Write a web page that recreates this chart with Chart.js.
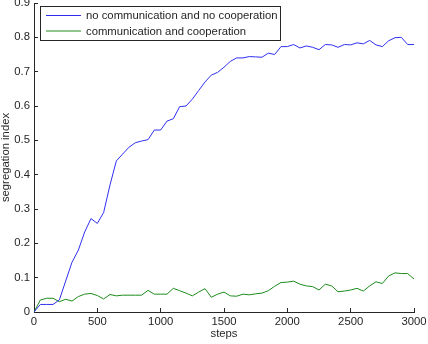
<!DOCTYPE html>
<html>
<head>
<meta charset="utf-8">
<script src="https://cdn.jsdelivr.net/npm/chart.js@4"></script>
<style>
  html, body { margin: 0; padding: 0; background: #fff; }
  canvas { display: block; }
</style>
</head>
<body>
<canvas id="segChart" width="428" height="344"></canvas>
<script>
const steps = [0, 50, 100, 150, 200, 250, 300, 350, 400, 450, 500, 550, 600, 650, 700, 750, 800, 850, 900, 950,
  1000, 1050, 1100, 1150, 1200, 1250, 1300, 1350, 1400, 1450, 1500, 1550, 1600, 1650, 1700, 1750, 1800, 1850, 1900, 1950,
  2000, 2050, 2100, 2150, 2200, 2250, 2300, 2350, 2400, 2450, 2500, 2550, 2600, 2650, 2700, 2750, 2800, 2850, 2900, 2950, 3000];

const noCoop = [0, 0.022, 0.022, 0.022, 0.035, 0.09, 0.145, 0.18, 0.233, 0.272, 0.258, 0.29, 0.37, 0.44, 0.46, 0.48, 0.493, 0.498, 0.502, 0.53,
  0.53, 0.556, 0.563, 0.598, 0.6, 0.62, 0.645, 0.67, 0.69, 0.698, 0.713, 0.73, 0.74, 0.74, 0.744, 0.743, 0.742, 0.754, 0.75, 0.773,
  0.773, 0.779, 0.769, 0.775, 0.771, 0.764, 0.779, 0.778, 0.771, 0.779, 0.778, 0.784, 0.781, 0.791, 0.778, 0.773, 0.79, 0.799, 0.8, 0.779, 0.779];

const withCoop = [0, 0.035, 0.04, 0.04, 0.03, 0.037, 0.032, 0.045, 0.052, 0.054, 0.048, 0.038, 0.051, 0.047, 0.049, 0.049, 0.049, 0.049, 0.063, 0.052,
  0.052, 0.052, 0.069, 0.062, 0.055, 0.047, 0.058, 0.068, 0.043, 0.052, 0.058, 0.047, 0.046, 0.052, 0.05, 0.053, 0.055, 0.062, 0.075, 0.086,
  0.087, 0.09, 0.081, 0.076, 0.074, 0.064, 0.081, 0.076, 0.059, 0.061, 0.064, 0.069, 0.061, 0.076, 0.088, 0.083, 0.105, 0.114, 0.112, 0.112, 0.096];

const seriesNames = ['no communication and no cooperation', 'communication and cooperation'];
const seriesColors = ['#2f2ff2', '#1c8c1c'];

const xTicks = [0, 500, 1000, 1500, 2000, 2500, 3000];
const yTicks = [0, 0.1, 0.2, 0.3, 0.4, 0.5, 0.6, 0.7, 0.8, 0.9];

const font = { family: 'Liberation Sans, Arial, sans-serif', size: 11.3, lineHeight: 1 };
const textColor = '#262626';

// boxed legend in the top-left corner, like matlab's
const legendBox = {
  id: 'legendBox',
  afterDraw(chart) {
    const ctx = chart.ctx;
    ctx.save();
    ctx.fillStyle = '#fff';
    ctx.fillRect(40.5, 6.5, 240, 34);
    ctx.strokeStyle = '#262626';
    ctx.lineWidth = 1;
    ctx.strokeRect(40.5, 6.5, 240, 34);
    ctx.font = font.size + 'px ' + font.family;
    ctx.textBaseline = 'middle';
    chart.data.datasets.forEach((ds, i) => {
      const y = 15.5 + i * 15.5;
      ctx.strokeStyle = ds.borderColor;
      ctx.beginPath();
      ctx.moveTo(46, y);
      ctx.lineTo(81, y);
      ctx.stroke();
      ctx.fillStyle = textColor;
      ctx.fillText(ds.label, 86, y + 0.5);
    });
    ctx.restore();
  }
};

new Chart(document.getElementById('segChart'), {
  type: 'line',
  data: {
    datasets: [
      { label: seriesNames[0], data: steps.map((s, i) => ({ x: s, y: noCoop[i] })) },
      { label: seriesNames[1], data: steps.map((s, i) => ({ x: s, y: withCoop[i] })) }
    ].map((ds, i) => ({
      ...ds,
      borderColor: seriesColors[i],
      backgroundColor: seriesColors[i],
      borderWidth: 1,
      pointRadius: 0,
      tension: 0,
      fill: false
    }))
  },
  options: {
    responsive: false,
    animation: false,
    layout: { padding: 0 },
    plugins: { legend: { display: false }, tooltip: { enabled: false } },
    scales: {
      x: {
        type: 'linear',
        min: 0,
        max: 3000,
        afterBuildTicks: s => { s.ticks = xTicks.map(v => ({ value: v })); },
        afterFit: s => { s.height = 32; s.paddingRight = 14; s.paddingLeft = 0; },
        grid: { drawOnChartArea: false, drawTicks: true, tickLength: -4, color: '#262626' },
        border: { color: '#262626', width: 1 },
        ticks: { color: textColor, font: font, padding: 8, maxRotation: 0, autoSkip: false, callback: v => String(v) },
        title: { display: true, text: 'steps', color: textColor, font: font, padding: { top: 0, bottom: 4 } }
      },
      y: {
        min: 0,
        max: 0.9,
        afterBuildTicks: s => { s.ticks = yTicks.map(v => ({ value: v })); },
        afterFit: s => { s.width = 34; s.paddingTop = 3; s.paddingBottom = 0; },
        grid: { drawOnChartArea: false, drawTicks: true, tickLength: -4, color: '#262626' },
        border: { color: '#262626', width: 1 },
        ticks: { color: textColor, font: font, padding: 8, autoSkip: false, callback: v => (v === 0 ? '0' : v.toFixed(1)) },
        title: { display: true, text: 'segregation index', color: textColor, font: font, padding: 0 }
      }
    }
  },
  plugins: [legendBox]
});
</script>
</body>
</html>
